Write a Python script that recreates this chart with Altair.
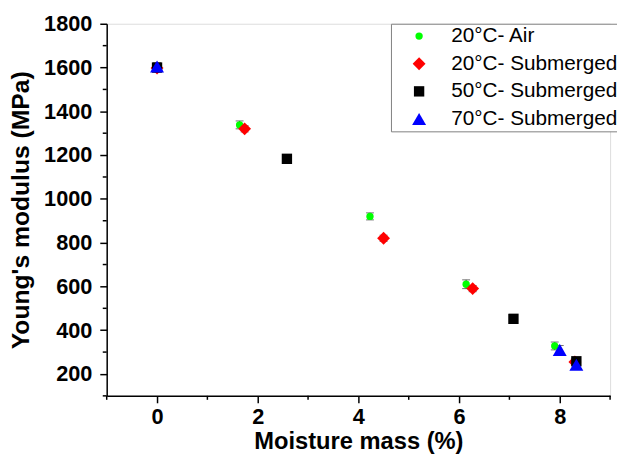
import altair as alt
import pandas as pd

series = ["20°C- Air", "20°C- Submerged", "50°C- Submerged", "70°C- Submerged"]
colors = ["#00ff00", "#ff0000", "#000000", "#0000ff"]
shapes = ["circle", "diamond", "square", "triangle-up"]
sizes = [55, 170, 110, 200]

air_x = [0.0, 1.64, 4.23, 6.14, 7.90]
air_y = [1600, 1338, 920, 610, 328]
air_e = [20, 18, 16, 20, 18]

sub20_x = [0.0, 1.74, 4.50, 6.27, 8.30]
sub20_y = [1598, 1320, 820, 590, 255]
sub20_e = [16, 14, 14, 14, 14]

sub50_x = [0.0, 2.58, 7.08, 8.33]
sub50_y = [1600, 1183, 452, 258]
sub50_e = [16, 10, 10, 12]

sub70_x = [0.0, 8.00, 8.33]
sub70_y = [1605, 310, 242]
sub70_e = [16, 20, 20]

x_major = [0, 2, 4, 6, 8]
x_minor = [-1, 1, 3, 5, 7, 9]
y_major = [200, 400, 600, 800, 1000, 1200, 1400, 1600, 1800]
y_minor = [100, 300, 500, 700, 900, 1100, 1300, 1500, 1700]

rows = []
for name, xs, ys, es in zip(series,
                            [air_x, sub20_x, sub50_x, sub70_x],
                            [air_y, sub20_y, sub50_y, sub70_y],
                            [air_e, sub20_e, sub50_e, sub70_e]):
    for x, y, e in zip(xs, ys, es):
        rows.append({"series": name, "x": x, "y": y, "lo": y - e, "hi": y + e})
df = pd.DataFrame(rows)

FONT = "Liberation Sans"

xscale = alt.Scale(domain=[-1, 9], nice=False, zero=False)
yscale = alt.Scale(domain=[100, 1800], nice=False, zero=False)

xaxis = alt.Axis(
    title="Moisture mass (%)",
    values=x_major, tickSize=7,
    grid=False, domainColor="black", tickColor="black", domainWidth=1.5, tickWidth=1.5,
    labelFont=FONT, labelFontSize=22, labelFontWeight="bold", labelColor="black",
    labelPadding=4, labelFlush=False, labelOverlap=False,
    titleFont=FONT, titleFontSize=24, titleFontWeight="bold", titleColor="black",
    titlePadding=2,
)
yaxis = alt.Axis(
    title="Young's modulus (MPa)",
    values=y_major, tickSize=7, format="d",
    grid=False, domainColor="black", tickColor="black", domainWidth=1.5, tickWidth=1.5,
    labelFont=FONT, labelFontSize=22, labelFontWeight="bold", labelColor="black",
    labelPadding=8, labelFlush=False, labelOverlap=False,
    titleFont=FONT, titleFontSize=25, titleFontWeight="bold", titleColor="black",
    titlePadding=10,
)

base = alt.Chart(df)

bars = base.mark_rule(color="#333333", strokeWidth=1).encode(
    x=alt.X("x:Q", scale=xscale, axis=xaxis),
    y=alt.Y("lo:Q", scale=yscale, axis=yaxis),
    y2="hi:Q",
)
cap_lo = base.mark_tick(color="#333333", thickness=1, size=8, orient="horizontal").encode(
    x=alt.X("x:Q", scale=xscale, axis=xaxis), y=alt.Y("lo:Q", scale=yscale, axis=yaxis)
)
cap_hi = base.mark_tick(color="#333333", thickness=1, size=8, orient="horizontal").encode(
    x=alt.X("x:Q", scale=xscale, axis=xaxis), y=alt.Y("hi:Q", scale=yscale, axis=yaxis)
)

points = base.mark_point(filled=True, opacity=1, strokeWidth=0).encode(
    x=alt.X("x:Q", scale=xscale, axis=xaxis),
    y=alt.Y("y:Q", scale=yscale, axis=yaxis),
    color=alt.Color("series:N", scale=alt.Scale(domain=series, range=colors), legend=alt.Legend(
        title=None, orient="none", legendX=288, legendY=0,
        labelFont=FONT, labelFontSize=21, labelColor="black", labelLimit=400,
        padding=2, rowPadding=6, symbolOffset=16, labelOffset=22,
        strokeColor="#808080", fillColor="white", symbolStrokeWidth=0,
    )),
    shape=alt.Shape("series:N", scale=alt.Scale(domain=series, range=shapes)),
    size=alt.Size("series:N", scale=alt.Scale(type="ordinal", domain=series, range=sizes)),
)

# minor ticks (outside the plot area, along the axes)
ymin_ticks = alt.Chart(pd.DataFrame({"v": y_minor})).mark_rule(
    color="black", strokeWidth=1.5
).encode(
    y=alt.Y("v:Q", scale=yscale, axis=yaxis),
    x=alt.value(-4), x2=alt.value(0),
)
xmin_ticks = alt.Chart(pd.DataFrame({"v": x_minor})).mark_rule(
    color="black", strokeWidth=1.5
).encode(
    x=alt.X("v:Q", scale=xscale, axis=xaxis),
    y=alt.value(377), y2=alt.value(381),
)

chart = alt.layer(bars, cap_lo, cap_hi, ymin_ticks, xmin_ticks, points).properties(
    width=510, height=377,
    padding={"left": 100, "top": 13, "right": 7, "bottom": 61},
    autosize=alt.AutoSizeParams(type="none"),
).configure_view(stroke=None).configure(background="white")

chart.save("out.html", embed_options={"renderer": "svg", "actions": False})
